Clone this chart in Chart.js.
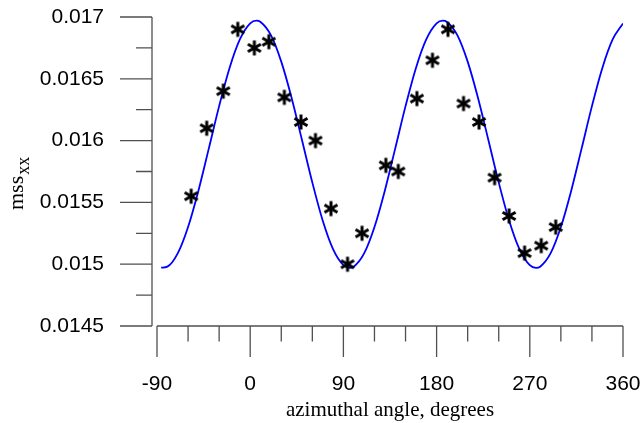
<!DOCTYPE html>
<html>
<head>
<meta charset="utf-8">
<script src="https://cdn.jsdelivr.net/npm/chart.js@4.4.1/dist/chart.umd.min.js"></script>
<style>
  html, body { margin: 0; padding: 0; background: #fff; }
  canvas { display: block; }
</style>
</head>
<body>
<canvas id="chart" width="642" height="423"></canvas>
<script>
// fitted curve
const curveAngles = [-86, -80, -70, -60, -50, -40, -30, -20, -10, 0, 6, 10, 20, 30, 40, 50, 60, 70, 80, 90, 96,
    100, 110, 120, 130, 140, 150, 160, 170, 180, 186, 190, 200, 210, 220, 230, 240, 250, 260, 270, 276,
    280, 290, 300, 310, 320, 330, 340, 350, 360];
const curveValues = [0.014972, 0.01498, 0.015087, 0.015301, 0.015595, 0.015935, 0.016279, 0.016586, 0.016818, 0.016948, 0.01697,
    0.01696, 0.016853, 0.016639, 0.016345, 0.016005, 0.015661, 0.015354, 0.015122, 0.014992, 0.01497,
    0.01498, 0.015087, 0.015301, 0.015595, 0.015935, 0.016279, 0.016586, 0.016818, 0.016948, 0.01697,
    0.01696, 0.016853, 0.016639, 0.016345, 0.016005, 0.015661, 0.015354, 0.015122, 0.014992, 0.01497,
    0.01498, 0.015087, 0.015301, 0.015595, 0.015935, 0.016279, 0.016586, 0.016818, 0.016948];

// measured points (asterisks)
const pointAngles = [-57, -42, -26, -12, 4, 18, 33, 49, 63, 78, 94, 108, 131, 143, 161, 176, 191, 206, 221, 236, 250, 265, 281, 295];
const pointValues = [0.01555, 0.0161, 0.0164, 0.0169, 0.01675, 0.0168, 0.01635, 0.01615, 0.0160, 0.01545, 0.0150, 0.01525,
    0.0158, 0.01575, 0.01634, 0.01665, 0.0169, 0.0163, 0.01615, 0.0157, 0.01539, 0.01509, 0.01515, 0.0153];

const xTickValues = [-90, 0, 90, 180, 270, 360];
const xTickLabels = ['-90', '0', '90', '180', '270', '360'];
const xMinorValues = [-60, -30, 30, 60, 120, 150, 210, 240, 300, 330];
const yTickValues = [0.0145, 0.015, 0.0155, 0.016, 0.0165, 0.017];
const yTickLabels = ['0.0145', '0.015', '0.0155', '0.016', '0.0165', '0.017'];
const yMinorValues = [0.01475, 0.01525, 0.01575, 0.01625, 0.01675];

function makeStar() {
    const c = document.createElement('canvas');
    c.width = 20;
    c.height = 20;
    const g = c.getContext('2d');
    g.strokeStyle = '#000';
    g.lineWidth = 3;
    g.translate(10, 10);
    const r = 7.5;
    for (let k = 0; k < 3; k++) {
        const a = Math.PI / 2 + k * Math.PI / 3;
        g.beginPath();
        g.moveTo(-r * Math.cos(a), -r * Math.sin(a));
        g.lineTo(r * Math.cos(a), r * Math.sin(a));
        g.stroke();
    }
    return c;
}

// axis lines and tick marks, drawn like the original (y axis a bit left of the x range)
const axesPlugin = {
    id: 'axes',
    afterDraw(chart) {
        const ctx = chart.ctx;
        const xs = chart.scales.x;
        const ys = chart.scales.y;
        ctx.save();
        ctx.strokeStyle = '#505050';
        ctx.lineWidth = 1.3;
        const ax = xs.left - 5;
        const yTop = ys.getPixelForValue(0.017);
        const yBot = ys.getPixelForValue(0.0145);
        ctx.beginPath();
        ctx.moveTo(ax, yTop);
        ctx.lineTo(ax, yBot);
        yTickValues.forEach(v => {
            const p = ys.getPixelForValue(v);
            ctx.moveTo(ax - 32, p);
            ctx.lineTo(ax, p);
        });
        yMinorValues.forEach(v => {
            const p = ys.getPixelForValue(v);
            ctx.moveTo(ax - 16, p);
            ctx.lineTo(ax, p);
        });
        const ay = yBot;
        ctx.moveTo(xs.getPixelForValue(-90), ay);
        ctx.lineTo(xs.getPixelForValue(360), ay);
        xTickValues.forEach(v => {
            const p = xs.getPixelForValue(v);
            ctx.moveTo(p, ay);
            ctx.lineTo(p, ay + 31);
        });
        xMinorValues.forEach(v => {
            const p = xs.getPixelForValue(v);
            ctx.moveTo(p, ay);
            ctx.lineTo(p, ay + 15.5);
        });
        ctx.stroke();

        // y title with subscript
        ctx.fillStyle = '#000';
        ctx.translate(23, 210);
        ctx.rotate(-Math.PI / 2);
        ctx.textBaseline = 'alphabetic';
        ctx.textAlign = 'left';
        ctx.font = '22px "Liberation Serif", "Times New Roman", serif';
        ctx.fillText('mss', 0, 0);
        const w = ctx.measureText('mss').width;
        ctx.font = '18px "Liberation Serif", "Times New Roman", serif';
        ctx.fillText('xx', w + 1, 6);
        ctx.restore();
    }
};

const tickFont = { family: '"Liberation Sans", Arial, sans-serif', size: 21 };

new Chart(document.getElementById('chart'), {
    type: 'scatter',
    data: {
        datasets: [
            {
                label: 'fit',
                data: curveAngles.map((a, i) => ({ x: a, y: curveValues[i] })),
                showLine: true,
                borderColor: '#0000ff',
                borderWidth: 1.8,
                pointRadius: 0,
                cubicInterpolationMode: 'monotone',
                fill: false,
                order: 2
            },
            {
                label: 'measured',
                data: pointAngles.map((a, i) => ({ x: a, y: pointValues[i] })),
                showLine: false,
                pointStyle: makeStar(),
                pointRadius: 7,
                order: 1
            }
        ]
    },
    options: {
        responsive: false,
        devicePixelRatio: 1,
        animation: false,
        layout: { padding: { top: 17, right: 19, left: 0, bottom: 0 } },
        plugins: { legend: { display: false }, tooltip: { enabled: false } },
        scales: {
            x: {
                type: 'linear',
                min: -90,
                max: 360,
                afterBuildTicks: s => { s.ticks = xTickValues.map(v => ({ value: v })); },
                afterFit: s => { s.height = 97; },
                grid: { display: false, drawTicks: true, tickLength: 46 },
                border: { display: false },
                ticks: {
                    callback: v => xTickLabels[xTickValues.indexOf(v)],
                    padding: 0,
                    color: '#000',
                    font: tickFont,
                    maxRotation: 0,
                    autoSkip: false
                },
                title: {
                    display: true,
                    text: 'azimuthal angle, degrees',
                    color: '#000',
                    font: { family: '"Liberation Serif", "Times New Roman", serif', size: 21 },
                    padding: { top: 0, bottom: 0 }
                }
            },
            y: {
                type: 'linear',
                min: 0.0145,
                max: 0.017,
                afterBuildTicks: s => { s.ticks = yTickValues.map(v => ({ value: v })); },
                afterFit: s => { s.width = 157; },
                grid: { display: false, drawTicks: true, tickLength: 53 },
                border: { display: false },
                ticks: {
                    callback: v => yTickLabels[yTickValues.indexOf(v)],
                    padding: 0,
                    color: '#000',
                    font: tickFont,
                    autoSkip: false
                }
            }
        }
    },
    plugins: [axesPlugin]
});
</script>
</body>
</html>
